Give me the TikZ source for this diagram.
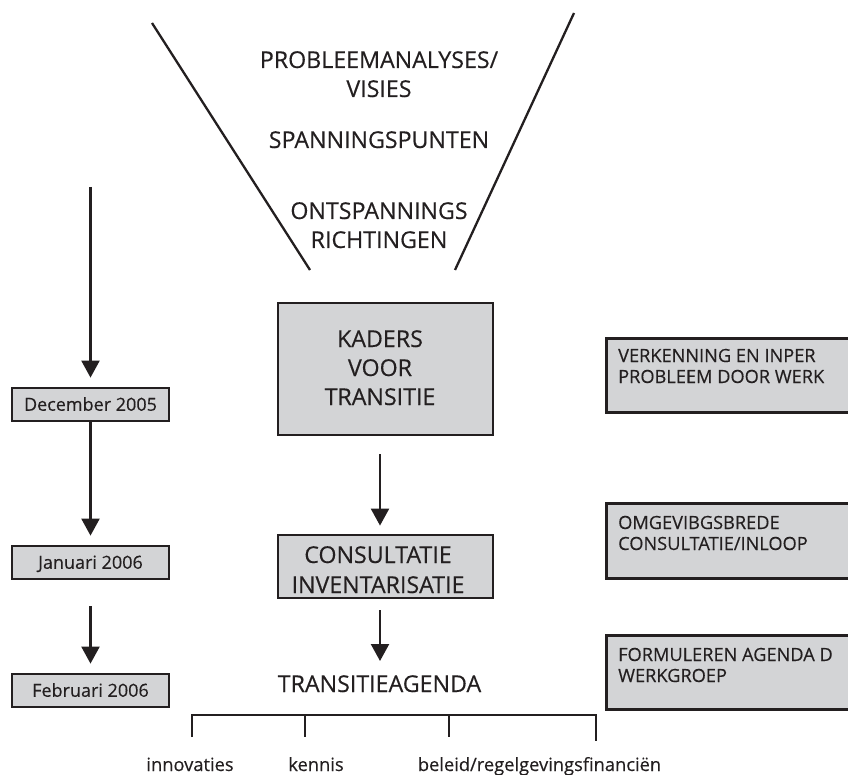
\documentclass[tikz,border=0pt]{standalone}
\usepackage{fontspec}
\setmainfont{Open Sans}[FakeBold=0.35]
\usetikzlibrary{arrows.meta}
\definecolor{boxgray}{RGB}{211,212,214}
\definecolor{ink}{RGB}{35,31,32}

\begin{document}
\begin{tikzpicture}[x=1pt,y=-1pt,
  every node/.style={text=ink},
  graybox/.style={draw=ink, line width=2.8pt, fill=boxgray, inner sep=0pt},
  flow/.style={draw=ink, line width=2.3pt, -{Triangle[width=18pt,length=17pt]}},
  rule/.style={draw=ink, line width=2.3pt},
  bigtxt/.style={font=\fontsize{23.2}{29}\selectfont, align=center, anchor=base, inner sep=0pt},
  sidetxt/.style={font=\fontsize{18.2}{21}\selectfont, align=left, anchor=base west, inner sep=0pt},
  datetxt/.style={font=\fontsize{18}{20}\selectfont, text height=12.5pt, text depth=0pt},
  leaftxt/.style={font=\fontsize{18.3}{20}\selectfont, anchor=base, inner sep=0pt}
]
\useasboundingbox (0,0) rectangle (848,775);
\clip (0,0) rectangle (848,775);

% funnel
\coordinate (fl1) at (152,23);
\coordinate (fl2) at (310,270);
\coordinate (fr1) at (574,13);
\coordinate (fr2) at (455,270);
\draw[rule] (fl1) -- (fl2);
\draw[rule] (fr1) -- (fr2);

% multi-line texts are placed by the baseline of their last line
\node[bigtxt] (probl) at (379,97) {PROBLEEMANALYSES/\\VISIES};
\node[bigtxt] (span) at (379,148) {SPANNINGSPUNTEN};
\node[bigtxt] (ontsp) at (379,248) {ONTSPANNINGS\\RICHTINGEN};

% central column
\node[graybox, minimum width=215, minimum height=132] (kaders) at (385.5,369) {};
\node[bigtxt] (kaderstxt) at (380,405) {KADERS\\VOOR\\TRANSITIE};

\node[graybox, minimum width=215, minimum height=63] (consult) at (385.5,566.5) {};
\node[bigtxt, font=\fontsize{23.2}{30}\selectfont] (consulttxt) at (378,593) {CONSULTATIE\\INVENTARISATIE};

\node[bigtxt] (agenda) at (379.5,692) {TRANSITIEAGENDA};

\draw[flow, shorten <=18pt, shorten >=8pt] (kaders.south -| kaderstxt.base) -- (consult.north -| kaderstxt.base);
\draw[flow, shorten <=11pt, shorten >=14pt] (consult.south -| kaderstxt.base) -- (agenda.north -| kaderstxt.base);

% bracket with themes
\coordinate (b1) at (192,715);
\coordinate (b2) at (305,715);
\coordinate (b3) at (449,715);
\coordinate (b4) at (596,715);
\coordinate (t1) at (192,737);
\coordinate (t2) at (305,737);
\coordinate (t3) at (449,737);
\coordinate (t4) at (596,741);
\draw[rule, line join=miter] (t1) -- (b1) -- (b4) -- (t4);
\draw[rule] (b2) -- (t2);
\draw[rule] (b3) -- (t3);

\node[leaftxt] (innov) at (190,771) {innovaties};
\node[leaftxt] (kennis) at (316,771) {kennis};
\node[leaftxt] (beleid) at (539.5,771) {beleid/regelgevingsfinanciën};

% timeline
\coordinate (tstart) at (90.5,187);
\node[graybox, datetxt, minimum width=157, minimum height=33] (dec) at (90.5,404.5) {December 2005};
\node[graybox, datetxt, minimum width=157, minimum height=33] (jan) at (90.5,562.5) {Januari 2006};
\node[graybox, datetxt, minimum width=157, minimum height=33] (feb) at (90.5,690.5) {Februari 2006};
\draw[flow, shorten >=9pt] (tstart) -- (dec.north);
\draw[flow, shorten >=9pt] (dec.south) -- (jan.north);
\draw[flow, shorten <=26pt, shorten >=9pt] (jan.south) -- (feb.north);

% activities
\node[graybox, anchor=north west, minimum width=260, minimum height=74] (verk) at (605,337) {};
\node[sidetxt] (verktxt) at (618,383) {VERKENNING EN INPER\\PROBLEEM DOOR WERK};
\node[graybox, anchor=north west, minimum width=260, minimum height=75] (omg) at (605,502) {};
\node[sidetxt] (omgtxt) at (618,550) {OMGEVIBGSBREDE\\CONSULTATIE/INLOOP};
\node[graybox, anchor=north west, minimum width=260, minimum height=74] (form) at (605,634) {};
\node[sidetxt] (formtxt) at (618,682) {FORMULEREN AGENDA D\\WERKGROEP};
\end{tikzpicture}
\end{document}
